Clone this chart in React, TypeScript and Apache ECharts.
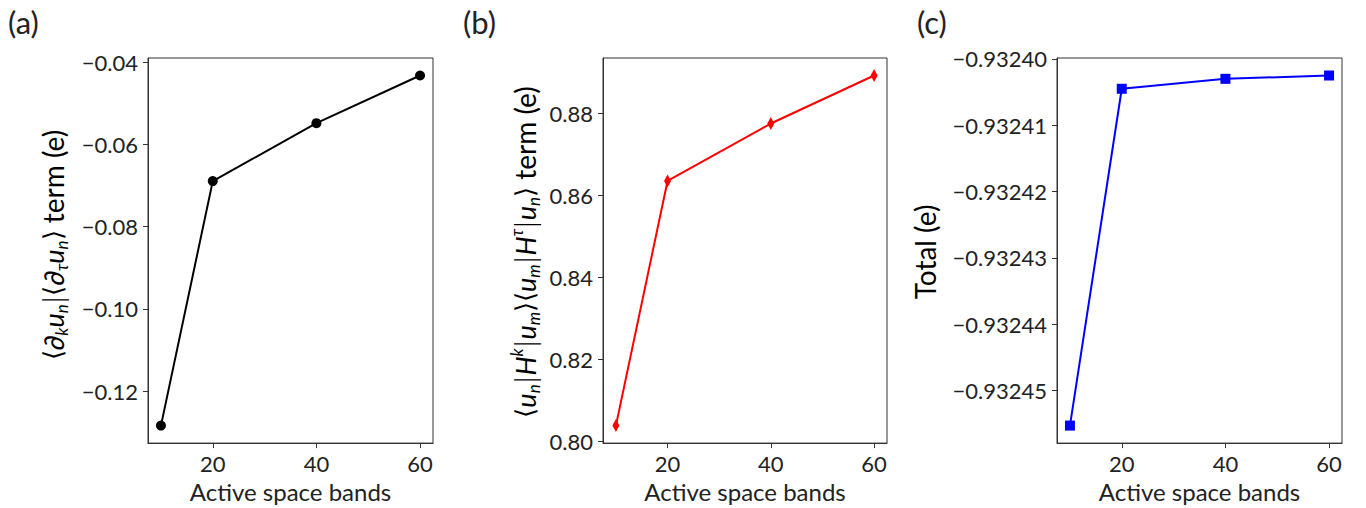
import React, { useEffect, useRef } from "react";
import * as echarts from "echarts";

// Active-space convergence of the two contributions and their total
const bands = [10, 20, 40, 60];
const berryTerm = [-0.1284, -0.0689, -0.0548, -0.0432];
const hamiltonianTerm = [0.8039, 0.8635, 0.8775, 0.8892];
const totalValues = [-0.9324553, -0.9324045, -0.932403, -0.9324025];

const xTicks = [20, 40, 60];
const yTicksA = [-0.12, -0.1, -0.08, -0.06, -0.04];
const yTicksB = [0.8, 0.82, 0.84, 0.86, 0.88];
const yTicksC = [-0.93245, -0.93244, -0.93243, -0.93242, -0.93241, -0.9324];

const FONT = "Lato, 'DejaVu Sans', sans-serif";
const INK = "#222";
const SPINE = "#333";

// 5% padding on each side of the data range
function padded(vals: number[]): [number, number] {
  const lo = Math.min(...vals);
  const hi = Math.max(...vals);
  const m = (hi - lo) * 0.05;
  return [lo - m, hi + m];
}

const fmt = (digits: number) => (v: number) =>
  v.toFixed(digits).replace("-", "\u2212");

const xExtent = padded(bands);

const grids = [
  { left: 148, top: 58, width: 285, height: 387 },
  { left: 603, top: 58, width: 284, height: 387 },
  { left: 1057, top: 58, width: 285, height: 387 },
];

function xAxisFor(i: number) {
  return {
    type: "value",
    gridIndex: i,
    min: xExtent[0],
    max: xExtent[1],
    name: "Active space bands",
    nameLocation: "middle",
    nameGap: 33,
    nameTextStyle: { fontFamily: FONT, fontSize: 24, color: INK },
    axisLine: { show: true, lineStyle: { color: SPINE, width: 1 } },
    axisTick: {
      show: true,
      length: 5,
      customValues: xTicks,
      lineStyle: { color: SPINE, width: 1 },
    },
    axisLabel: {
      show: true,
      margin: 9,
      customValues: xTicks,
      fontFamily: FONT,
      fontSize: 22,
      color: INK,
      formatter: (v: number) => String(v),
    },
    splitLine: { show: false },
  };
}

function yAxisFor(i: number, vals: number[], ticks: number[], digits: number) {
  const ext = padded(vals);
  return {
    type: "value",
    gridIndex: i,
    min: ext[0],
    max: ext[1],
    axisLine: { show: true, lineStyle: { color: SPINE, width: 1 } },
    axisTick: {
      show: true,
      length: 5,
      customValues: ticks,
      lineStyle: { color: SPINE, width: 1 },
    },
    axisLabel: {
      show: true,
      margin: 10,
      customValues: ticks,
      fontFamily: FONT,
      fontSize: 22,
      color: INK,
      formatter: fmt(digits),
    },
    splitLine: { show: false },
  };
}

function lineSeries(
  i: number,
  vals: number[],
  color: string,
  symbol: string,
  symbolSize: number | number[]
) {
  return {
    type: "line",
    xAxisIndex: i,
    yAxisIndex: i,
    data: bands.map((b, k) => [b, vals[k]]),
    symbol,
    symbolSize,
    showAllSymbol: true,
    clip: false,
    lineStyle: { color, width: 2 },
    itemStyle: { color, borderWidth: 0 },
  };
}

const titleRich = {
  m: { fontFamily: FONT, fontSize: 28, color: INK, lineHeight: 34 },
  d: { fontFamily: "'DejaVu Sans', sans-serif", fontWeight: 200, fontSize: 26, color: INK, lineHeight: 34 },
  i: { fontFamily: FONT, fontSize: 27, fontStyle: "italic", color: INK, lineHeight: 34 },
  sub: {
    fontFamily: FONT,
    fontSize: 17,
    fontStyle: "italic",
    color: INK,
    lineHeight: 18,
    verticalAlign: "bottom",
  },
  sup: {
    fontFamily: FONT,
    fontSize: 17,
    fontStyle: "italic",
    color: INK,
    lineHeight: 18,
    verticalAlign: "top",
  },
};

const titleA =
  "{d|\u27E8}{i|\u2202}{sub|k}{i|u}{sub|n}{d||\u27E8}{i|\u2202}{sub|\u03C4}{i|u}{sub|n}{d|\u27E9}{m| term (e)}";
const titleB =
  "{d|\u27E8}{i|u}{sub|n}{d||}{i|H}{sup|k}{d||}{i|u}{sub|m}{d|\u27E9\u27E8}{i|u}{sub|m}{d||}{i|H}{sup|\u03C4}{d||}{i|u}{sub|n}{d|\u27E9}{m| term (e)}";
const titleC = "{m|Total (e)}";

function yTitle(x: number, y: number, text: string) {
  return {
    type: "text",
    x,
    y,
    rotation: Math.PI / 2,
    style: {
      text,
      rich: titleRich,
      align: "center",
      verticalAlign: "middle",
    },
  };
}

function panelLetter(x: number, text: string) {
  return {
    type: "text",
    x,
    y: 22,
    style: {
      text,
      fontFamily: FONT,
      fontSize: 31,
      fill: INK,
      align: "left",
      verticalAlign: "middle",
    },
  };
}

export default function App() {
  const ref = useRef<HTMLDivElement>(null);

  useEffect(() => {
    document.body.style.margin = "0";
    if (!ref.current) return;
    const chart = echarts.init(ref.current, undefined, { renderer: "svg" });
    chart.setOption({
      animation: false,
      backgroundColor: "#ffffff",
      grid: grids.map((g) => ({
        ...g,
        show: true,
        borderColor: SPINE,
        borderWidth: 1,
        backgroundColor: "transparent",
        containLabel: false,
      })),
      xAxis: [xAxisFor(0), xAxisFor(1), xAxisFor(2)],
      yAxis: [
        yAxisFor(0, berryTerm, yTicksA, 2),
        yAxisFor(1, hamiltonianTerm, yTicksB, 2),
        yAxisFor(2, totalValues, yTicksC, 5),
      ],
      series: [
        lineSeries(0, berryTerm, "#000000", "circle", 10),
        lineSeries(1, hamiltonianTerm, "#ff0000", "diamond", [7, 13]),
        lineSeries(2, totalValues, "#0000ff", "rect", 10),
      ],
      graphic: [
        panelLetter(8, "(a)"),
        panelLetter(463, "(b)"),
        panelLetter(917, "(c)"),
        yTitle(53, 245, titleA),
        yTitle(525, 252, titleB),
        yTitle(925, 252, titleC),
      ],
    });
    return () => chart.dispose();
  }, []);

  return <div ref={ref} style={{ width: 1366, height: 508 }} />;
}
